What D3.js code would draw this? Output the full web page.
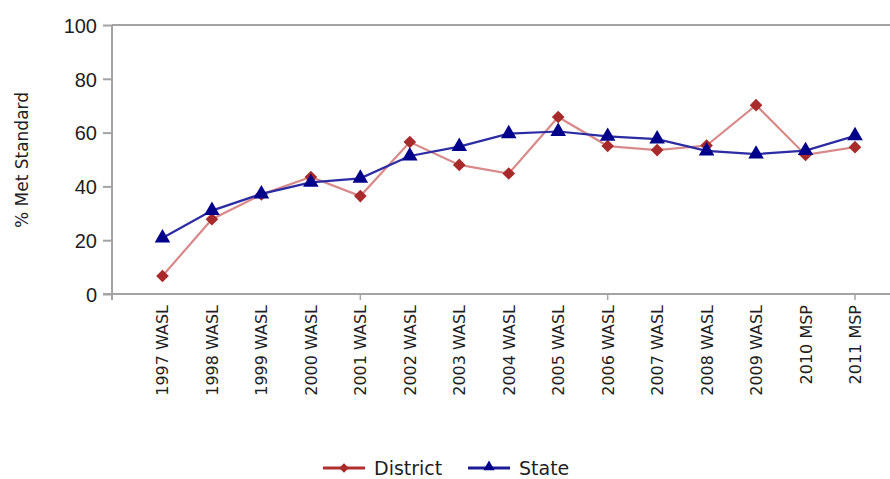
<!DOCTYPE html>
<html><head><meta charset="utf-8">
<script src="https://cdn.jsdelivr.net/npm/d3@7"></script>
<style>body{margin:0;background:#fff}svg{display:block}text{font-family:"DejaVu Sans",sans-serif;fill:#1e1e1e}</style>
</head><body>
<script>
const categories = ["1997 WASL","1998 WASL","1999 WASL","2000 WASL","2001 WASL","2002 WASL","2003 WASL","2004 WASL","2005 WASL","2006 WASL","2007 WASL","2008 WASL","2009 WASL","2010 MSP","2011 MSP"];
const district = [6.7,27.8,37,43.5,36.4,56.5,48,44.8,65.8,55,53.5,55.2,70.2,51.7,54.6];
const state = [20.8,31,37.2,41.5,43,51.3,54.8,59.6,60.4,58.6,57.6,53.2,52,53.3,58.8];
const yTicks = [0,20,40,60,80,100];
const majorTickCats = ["2001 WASL","2006 WASL","2011 MSP"];

const W=890,H=479;
const svg=d3.select("body").append("svg").attr("width",W).attr("height",H);
const x=d3.scaleLinear().domain([-1,categories.length-1]).range([113,855]);
const xi=c=>x(categories.indexOf(c));
const y=d3.scaleLinear().domain([0,100]).range([294,25]);
const axisCol="#a3a3a3";

// frame top line
svg.append("line").attr("x1",112).attr("x2",890).attr("y1",y(100)).attr("y2",y(100)).attr("stroke",axisCol).attr("stroke-width",2);

// y axis
const ya=svg.append("g").attr("transform","translate(112,0)").call(d3.axisLeft(y).tickValues(yTicks).tickSize(9).tickPadding(6));
ya.select(".domain").remove();
ya.selectAll("line").attr("stroke",axisCol).attr("stroke-width",2);
ya.selectAll("text").style("font-size","20px").style("font-family","'Liberation Sans',Arial,sans-serif").attr("fill","#1e1e1e").attr("dy","0.36em");
svg.append("line").attr("x1",112).attr("x2",112).attr("y1",y(100)).attr("y2",y(0)+6).attr("stroke",axisCol).attr("stroke-width",2);

// x axis
svg.append("line").attr("x1",103).attr("x2",890).attr("y1",y(0)).attr("y2",y(0)).attr("stroke",axisCol).attr("stroke-width",2);
svg.selectAll(".xt").data(majorTickCats).join("line").attr("x1",d=>xi(d)).attr("x2",d=>xi(d)).attr("y1",y(0)).attr("y2",y(0)+6).attr("stroke",axisCol).attr("stroke-width",1.5);
svg.selectAll(".xl").data(categories).join("text")
  .attr("transform",(d,i)=>`translate(${x(i)+6},305) rotate(-90)`)
  .attr("text-anchor","end").style("font-size","16px").text(d=>d);

// y title
svg.append("text").attr("transform","translate(28,160) rotate(-90)").attr("text-anchor","middle").style("font-size","17px").text("% Met Standard");

const line=d3.line().x((d,i)=>x(i)).y(d=>y(d));
// district
svg.append("path").datum(district).attr("d",line).attr("fill","none").attr("stroke","#d88a8a").attr("stroke-width",2.2);
svg.selectAll(".dm").data(district).join("path").attr("d",d3.symbol().type(d3.symbolSquare).size(80))
  .attr("transform",(d,i)=>`translate(${x(i)},${y(d)}) rotate(45)`).attr("fill","#a82a2a");
// state
svg.append("path").datum(state).attr("d",line).attr("fill","none").attr("stroke","#2b2ba3").attr("stroke-width",2.2);
const tri=d3.symbol().type(d3.symbolTriangle).size(105);
svg.selectAll(".st").data(state).join("path").attr("d",tri)
  .attr("transform",(d,i)=>`translate(${x(i)},${y(d)})`).attr("fill","#00008b");

// legend
const lg=svg.append("g");
lg.append("line").attr("x1",323).attr("x2",365).attr("y1",468).attr("y2",468).attr("stroke","#b03030").attr("stroke-width",3);
lg.append("path").attr("d",d3.symbol().type(d3.symbolSquare).size(45)).attr("transform","translate(344,468) rotate(45)").attr("fill","#a82a2a");
lg.append("text").attr("x",374).attr("y",475).style("font-size","19px").text("District");
lg.append("line").attr("x1",468).attr("x2",510).attr("y1",468).attr("y2",468).attr("stroke","#1c1c99").attr("stroke-width",3);
lg.append("path").attr("d",d3.symbol().type(d3.symbolTriangle).size(55)).attr("transform","translate(489,467)").attr("fill","#00008b");
lg.append("text").attr("x",519).attr("y",475).style("font-size","19px").text("State");
</script>
</body></html>
